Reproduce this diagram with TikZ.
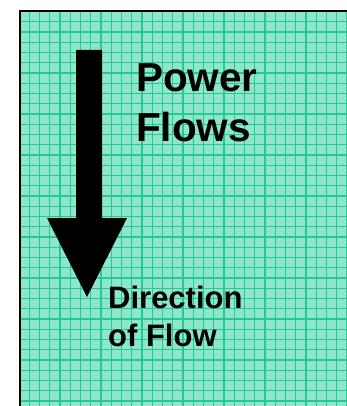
\documentclass[tikz,border=0pt]{standalone}
\usepackage{fontspec}
\setmainfont{Liberation Sans}

\begin{document}
\begin{tikzpicture}[x=1pt, y=-1pt]
    \definecolor{borderColour}{HTML}{000000}
    \definecolor{fillColour}{HTML}{8EE6CC}
    \definecolor{gridColour}{HTML}{26C996}

    \def\gridStep{10.25}

    \useasboundingbox (0,0) rectangle (347,406);

    \fill[fillColour] (20,11) rectangle (347,406);

    \begin{scope}
        \clip (20,11) rectangle (347,406);
        \foreach \i in {1,...,32}
            \draw[gridColour, line width=1.2pt] ({19+\gridStep*\i},11) -- ({19+\gridStep*\i},406);
        \foreach \j in {1,...,39}
            \draw[gridColour, line width=1.2pt] (20,{11.45+\gridStep*\j}) -- (347,{11.45+\gridStep*\j});
    \end{scope}

    \draw[borderColour, line width=2pt] (20,406) -- (20,11) -- (347,11);

    % arrow pointing down
    \coordinate (shaftTopL) at (76,50);
    \coordinate (shaftTopR) at (102,50);
    \coordinate (shaftBotL) at (76,218);
    \coordinate (shaftBotR) at (102,218);
    \coordinate (headL) at (47,218);
    \coordinate (headR) at (127,218);
    \coordinate (tip) at (87,297);

    \fill[borderColour] (shaftTopL) -- (shaftTopR) -- (shaftBotR) -- (headR) -- (tip)
        -- (headL) -- (shaftBotL) -- cycle;

    \node[anchor=base west, inner sep=0pt, align=left,
          font=\fontsize{40.5}{50}\selectfont\bfseries] (powerFlows) at (136,142) {Power\\Flows};
    \node[anchor=base west, inner sep=0pt, align=left,
          font=\fontsize{31}{38}\selectfont\bfseries] (flowDir) at (108,346) {Direction\\of Flow};

\end{tikzpicture}
\end{document}
